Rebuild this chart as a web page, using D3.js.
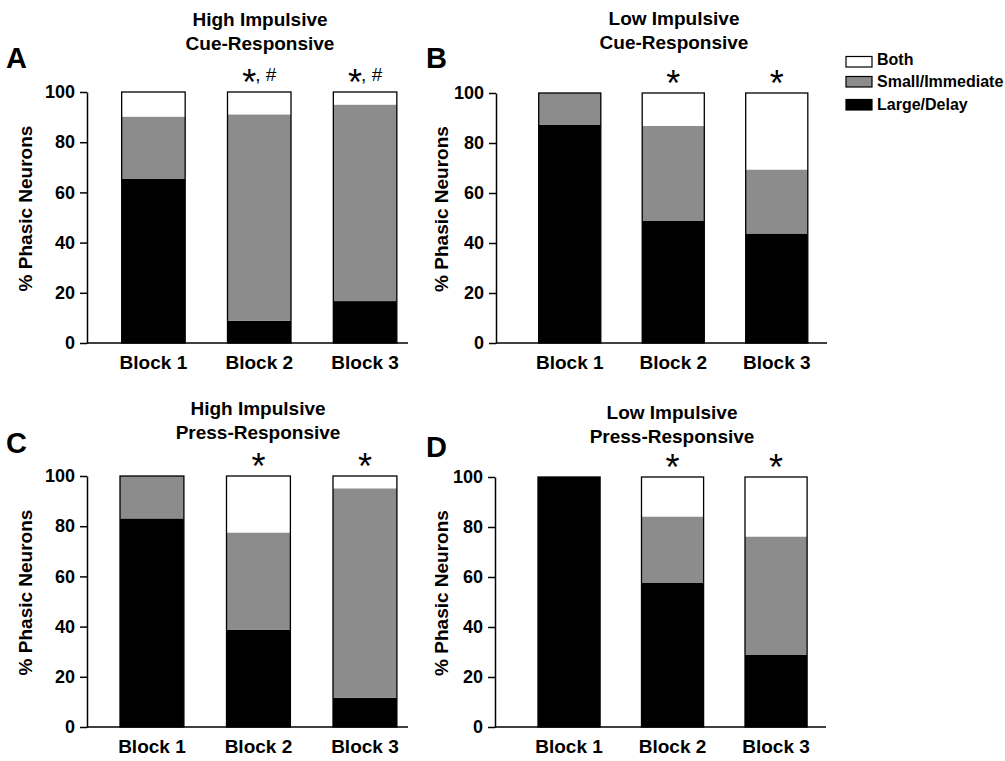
<!DOCTYPE html>
<html>
<head>
<meta charset="utf-8">
<script src="https://cdn.jsdelivr.net/npm/d3@7"></script>
<style>
  body { margin: 0; background: #fff; }
  text { font-family: "Liberation Sans", Arial, sans-serif; }
</style>
</head>
<body>
<script>
// categories / labels
var blocks = ["Block 1", "Block 2", "Block 3"];
var seriesKeys = ["large", "small", "both"];
var seriesNames = ["Large/Delay", "Small/Immediate", "Both"];
var seriesColors = ["#000000", "#8c8c8c", "#ffffff"];
var yTicks = [0, 20, 40, 60, 80, 100];

var panelLetters = ["A", "B", "C", "D"];
var titleLine1 = ["High Impulsive", "Low Impulsive", "High Impulsive", "Low Impulsive"];
var titleLine2 = ["Cue-Responsive", "Cue-Responsive", "Press-Responsive", "Press-Responsive"];

// % phasic neurons, per panel (Block 1..3)
var largeA = [65.5, 8.9, 16.7];
var smallA = [24.7, 82.2, 78.3];
var bothA  = [9.8, 8.9, 5.0];

var largeB = [87.2, 48.8, 43.8];
var smallB = [12.8, 38.0, 25.6];
var bothB  = [0, 13.2, 30.6];

var largeC = [83.1, 38.8, 11.7];
var smallC = [16.9, 38.7, 83.4];
var bothC  = [0, 22.5, 4.9];

var largeD = [100, 57.6, 28.8];
var smallD = [0, 26.6, 47.4];
var bothD  = [0, 15.8, 23.8];

// significance marks above the bars
var marksA = ["", "*, #", "*, #"];
var marksB = ["", "*", "*"];
var marksC = ["", "*", "*"];
var marksD = ["", "*", "*"];

var panelData = [
    [largeA, smallA, bothA, marksA],
    [largeB, smallB, bothB, marksB],
    [largeC, smallC, bothC, marksC],
    [largeD, smallD, bothD, marksD]
];

// where each panel sits on the page
var layouts = [
    {axisX: 87,  axisEnd: 408, bandL: 100.5, bandR: 418,   yTop: 92,  yBot: 343, titleX: 260, titleY: 26,  letterX: 6,   letterY: 68,  labelX: 25},
    {axisX: 496, axisEnd: 827, bandL: 518,   bandR: 828.5, yTop: 93,  yBot: 343, titleX: 674, titleY: 25,  letterX: 426, letterY: 68,  labelX: 441},
    {axisX: 87,  axisEnd: 408, bandL: 98.7,  bandR: 418.2, yTop: 476, yBot: 727, titleX: 258, titleY: 415, letterX: 6,   letterY: 453, labelX: 25},
    {axisX: 495, axisEnd: 826, bandL: 517.3, bandR: 827.8, yTop: 477, yBot: 727, titleX: 672, titleY: 419, letterX: 426, letterY: 457, labelX: 441}
];

var svg = d3.select("body").append("svg")
    .attr("width", 1005)
    .attr("height", 761);

var stack = d3.stack().keys(seriesKeys);

for (var pp = 0; pp < 4; pp++) {
    var L = layouts[pp], D = panelData[pp];
    var rows = blocks.map(function(b, i) {
        return {block: b, large: D[0][i], small: D[1][i], both: D[2][i], mark: D[3][i]};
    });

    var x = d3.scaleBand().domain(blocks).range([L.bandL, L.bandR])
        .paddingInner(0.4).paddingOuter(0.2);
    var y = d3.scaleLinear().domain([0, 100]).range([L.yBot, L.yTop]);

    var g = svg.append("g");

    // stacked segments
    var layers = g.selectAll("g.layer").data(stack(rows)).enter().append("g")
        .attr("fill", function(d, i) { return seriesColors[i]; });
    layers.selectAll("rect").data(function(d) { return d; }).enter().append("rect")
        .attr("x", function(d) { return x(d.data.block); })
        .attr("width", x.bandwidth())
        .attr("y", function(d) { return y(d[1]); })
        .attr("height", function(d) { return y(d[0]) - y(d[1]); });

    // bar outlines
    g.selectAll("rect.outline").data(rows).enter().append("rect")
        .attr("class", "outline")
        .attr("x", function(d) { return x(d.block); })
        .attr("width", x.bandwidth())
        .attr("y", function(d) { return y(d.large + d.small + d.both); })
        .attr("height", function(d) { return y(0) - y(d.large + d.small + d.both); })
        .attr("fill", "none").attr("stroke", "#000").attr("stroke-width", 1.3);

    // y axis
    var yAxis = g.append("g").attr("transform", "translate(" + L.axisX + ",0)")
        .call(d3.axisLeft(y).tickValues(yTicks).tickSize(7).tickSizeOuter(0).tickPadding(5));
    yAxis.select(".domain").attr("stroke-width", 1.5);
    yAxis.selectAll(".tick line").attr("stroke-width", 1.5);
    yAxis.selectAll("text").attr("font-size", 18).attr("font-weight", "bold")
        .attr("font-family", "Liberation Sans, Arial, sans-serif").attr("fill", "#000");

    // x axis line + labels
    g.append("line").attr("x1", L.axisX).attr("x2", L.axisEnd)
        .attr("y1", y(0)).attr("y2", y(0))
        .attr("stroke", "#000").attr("stroke-width", 1.5);
    var xAxis = g.append("g").attr("transform", "translate(0," + (y(0) + 12) + ")")
        .call(d3.axisBottom(x).tickSize(0).tickPadding(0));
    xAxis.select(".domain").remove();
    xAxis.selectAll("text").attr("font-size", 19).attr("font-weight", "bold")
        .attr("font-family", "Liberation Sans, Arial, sans-serif").attr("fill", "#000")
        .attr("dy", "0.71em");

    // y label
    g.append("text")
        .attr("transform", "translate(" + (L.labelX + 7) + "," + ((L.yTop + L.yBot) / 2 - 9) + ") rotate(-90)")
        .attr("text-anchor", "middle")
        .attr("font-size", 19).attr("font-weight", "bold")
        .text("% Phasic Neurons");

    // title
    g.append("text").attr("x", L.titleX).attr("y", L.titleY)
        .attr("text-anchor", "middle").attr("font-size", 19).attr("font-weight", "bold")
        .text(titleLine1[pp]);
    g.append("text").attr("x", L.titleX).attr("y", L.titleY + 24)
        .attr("text-anchor", "middle").attr("font-size", 19).attr("font-weight", "bold")
        .text(titleLine2[pp]);

    // panel letter
    g.append("text").attr("x", L.letterX).attr("y", L.letterY)
        .attr("font-size", 29).attr("font-weight", "bold")
        .text(panelLetters[pp]);

    // significance marks
    rows.forEach(function(r) {
        if (!r.mark) return;
        var cx = x(r.block) + x.bandwidth() / 2;
        var starY = y(100) + 3;
        var star = r.mark.charAt(0), rest = r.mark.slice(1);
        g.append("text").attr("x", rest ? cx - 10 : cx).attr("y", starY)
            .attr("text-anchor", "middle").attr("font-size", 36)
            .attr("font-family", "DejaVu Sans, sans-serif")
            .text(star);
        if (rest) {
            g.append("text").attr("x", cx - 4).attr("y", y(100) - 11)
                .attr("text-anchor", "start").attr("font-size", 19).text(rest);
        }
    });
}

// legend (top right)
var legendY = [56.5, 76.5, 99.5];
var legendTextY = [65, 87, 110];
var legendOrder = [2, 1, 0];
var legend = svg.append("g");
legendOrder.forEach(function(si, i) {
    legend.append("rect").attr("x", 846).attr("y", legendY[i])
        .attr("width", 26).attr("height", 10.5)
        .attr("fill", seriesColors[si]).attr("stroke", "#000").attr("stroke-width", 1.2);
    legend.append("text").attr("x", 877).attr("y", legendTextY[i])
        .attr("font-size", 16).attr("font-weight", "bold")
        .text(seriesNames[si]);
});
</script>
</body>
</html>
